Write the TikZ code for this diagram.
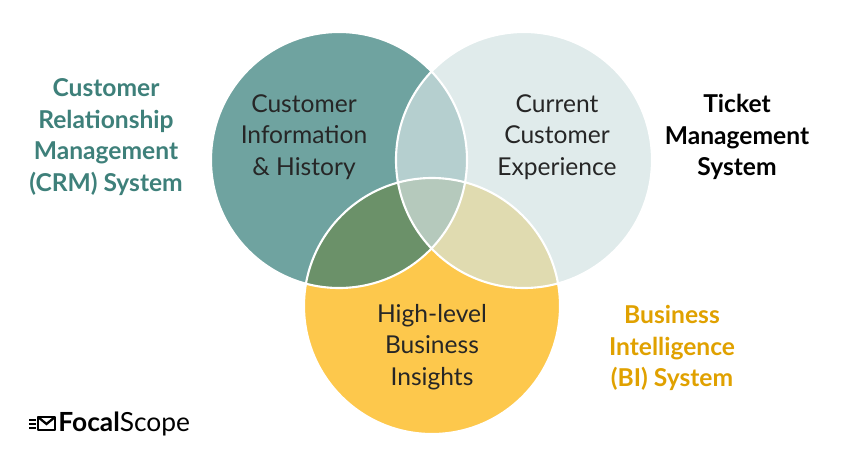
\documentclass[tikz,border=0pt]{standalone}
\usepackage{fontspec}
\setmainfont{Lato}
\usepackage{tikz}
\definecolor{crmteal}{HTML}{6FA3A0}
\definecolor{ticketgrey}{HTML}{E0EBEB}
\definecolor{biyellow}{HTML}{FDC84C}
\definecolor{crmtb}{HTML}{B5CFCF}
\definecolor{crmbi}{HTML}{6B9169}
\definecolor{tkbi}{HTML}{E0DBB0}
\definecolor{allthree}{HTML}{B5C9BC}
\definecolor{crmtext}{HTML}{3E807A}
\definecolor{bitext}{HTML}{E0A100}
\tikzset{
  inner/.style={align=center, font=\fontsize{14}{18}\selectfont, text=black!85},
  side/.style={align=center, font=\bfseries\fontsize{14}{18}\selectfont},
}
\begin{document}
\begin{tikzpicture}[x=0.02cm,y=-0.02cm]
    \useasboundingbox (0,0) rectangle (862,463);
    % Circles
    \def\crm{(339,160) circle (128)}
    \def\tk{(524,160) circle (128)}
    \def\bi{(432,306) circle (128)}
    \fill[crmteal] \crm;
    \fill[ticketgrey] \tk;
    \fill[biyellow] \bi;

    % Overlaps
    \begin{scope} \clip \crm; \fill[crmtb] \tk; \end{scope}
    \begin{scope} \clip \crm; \fill[crmbi] \bi; \end{scope}
    \begin{scope} \clip \tk; \fill[tkbi] \bi; \end{scope}
    \begin{scope} \clip \crm; \clip \tk; \fill[allthree] \bi; \end{scope}
    \draw[white, line width=1.2pt] \crm \tk \bi;

    % Texts in circles
    \node[inner] (history) at (304,137) {Customer\\Information\\\& History};
    \node[inner] (experience) at (557,137) {Current\\Customer\\Experience};
    \node[inner] (insights) at (432,347) {High-level\\Business\\Insights};

    % Labels of the systems
    \node[side, text=crmtext] (crm) at (106,137) {Customer\\Relationship\\Management\\(CRM) System};
    \node[side, text=black] (ticket) at (737,137) {Ticket\\Management\\System};
    \node[side, text=bitext] (bisys) at (672,348) {Business\\Intelligence\\(BI) System};

    % Logo
    \draw[black, line width=1.5pt, line join=round] (38,417) rectangle (55,430);
    \draw[black, line width=1.3pt] (38,417) -- (46.5,424) -- (55,417);
    \foreach \y in {420,424,428} \draw[black, line width=1.1pt] (29,\y) -- (36,\y);
    \node[anchor=west, font=\fontsize{15}{18}\selectfont, inner sep=0] (logo) at (58,424)
      {\textbf{Focal}Scope};
\end{tikzpicture}
\end{document}
